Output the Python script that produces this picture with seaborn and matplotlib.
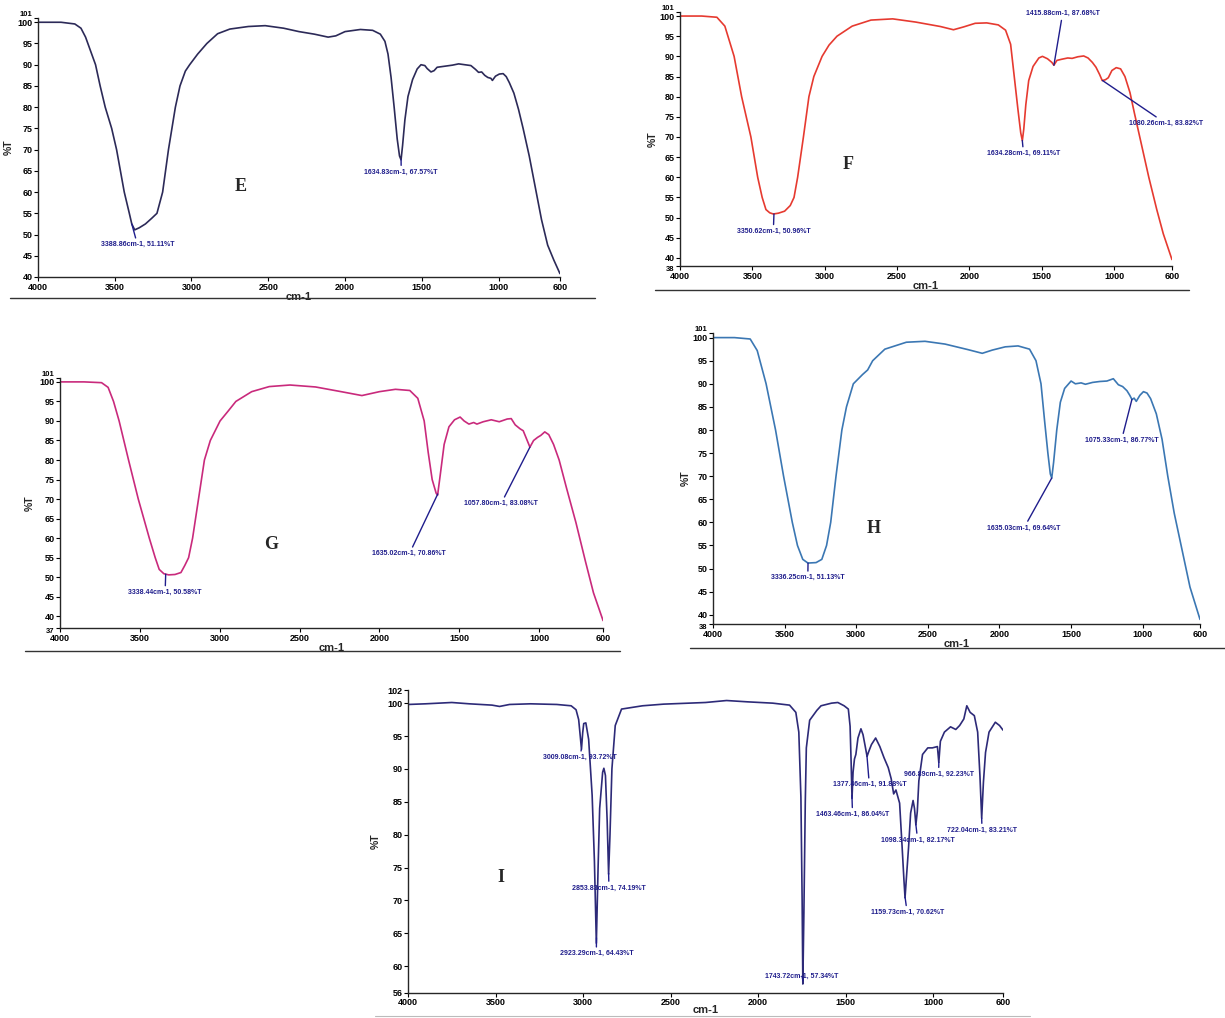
import numpy as np
import pandas as pd
import matplotlib
matplotlib.use('Agg')
import matplotlib.pyplot as plt
import seaborn as sns

# ---- spectra (wavenumber cm-1, %T) ----
E_wn = [4000, 3850, 3760, 3720, 3690, 3650, 3625, 3595, 3562, 3520, 3488, 3438, 3405, 3389, 3370, 3340, 3300, 3260, 3225, 3188,
        3150, 3105, 3075, 3040, 3012, 2960, 2900, 2830, 2750, 2630, 2520, 2400, 2300, 2200, 2110, 2060, 2000, 1900, 1820, 1770,
        1740, 1720, 1700, 1680, 1660, 1645, 1635, 1625, 1610, 1590, 1560, 1530, 1505, 1480, 1465, 1440, 1420, 1400, 1360, 1300,
        1260, 1220, 1180, 1150, 1130, 1110, 1090, 1070, 1050, 1040, 1020, 995, 970, 950, 930, 900, 870, 840, 800, 760,
        720, 680, 640, 600]
E_t = [100.0, 100.0, 99.6, 98.6, 96.5, 92.5, 90.0, 85.0, 80.0, 75.0, 70.0, 60.0, 55.0, 52.5, 51.1, 51.6, 52.5, 53.8, 55.0, 60.0,
       70.0, 80.0, 85.0, 88.5, 90.0, 92.5, 95.0, 97.3, 98.4, 99.0, 99.2, 98.6, 97.8, 97.2, 96.5, 96.8, 97.8, 98.3, 98.1, 97.2,
       95.5, 92.5, 87.0, 80.0, 72.5, 68.5, 67.6, 71.0, 77.0, 82.5, 86.5, 89.0, 90.0, 89.8, 89.1, 88.3, 88.6, 89.4, 89.6, 89.9,
       90.2, 90.0, 89.8, 88.9, 88.2, 88.3, 87.5, 87.0, 86.8, 86.3, 87.3, 87.8, 87.9, 87.2, 85.8, 83.3, 79.5, 75.0, 68.5, 61.0,
       53.5, 47.5, 44.0, 40.8]

F_wn = [4000, 3850, 3745, 3690, 3626, 3574, 3510, 3463, 3432, 3406, 3380, 3355, 3320, 3277, 3238, 3212, 3187, 3147, 3109, 3075,
        3018, 2970, 2915, 2810, 2680, 2530, 2370, 2200, 2110, 2040, 1960, 1880, 1800, 1750, 1715, 1690, 1665, 1645, 1634, 1624,
        1610, 1590, 1560, 1520, 1495, 1460, 1430, 1416, 1395, 1360, 1320, 1290, 1250, 1210, 1180, 1150, 1125, 1100, 1082, 1060,
        1040, 1015, 985, 955, 925, 890, 860, 810, 760, 705, 660, 600]
F_t = [100.0, 100.0, 99.7, 97.5, 90.0, 80.0, 70.0, 60.0, 55.0, 52.0, 51.2, 50.9, 51.1, 51.6, 53.0, 55.0, 60.0, 70.0, 80.0, 85.0,
       90.0, 92.8, 95.0, 97.5, 99.0, 99.3, 98.5, 97.4, 96.6, 97.3, 98.2, 98.3, 97.8, 96.5, 93.0, 85.0, 77.0, 71.0, 69.1, 72.0,
       78.0, 84.0, 87.5, 89.6, 90.0, 89.4, 88.5, 87.8, 89.0, 89.3, 89.6, 89.5, 89.9, 90.1, 89.6, 88.5, 87.3, 85.5, 84.0, 84.2,
       84.7, 86.5, 87.2, 86.9, 85.0, 81.0, 76.0, 68.0, 60.0, 52.0, 46.0, 39.6]

G_wn = [4000, 3850, 3740, 3699, 3665, 3630, 3571, 3510, 3441, 3404, 3379, 3350, 3320, 3280, 3243, 3219, 3195, 3170, 3133, 3096,
        3059, 2998, 2948, 2899, 2800, 2690, 2560, 2400, 2240, 2110, 2000, 1900, 1810, 1760, 1720, 1695, 1670, 1645, 1636, 1620,
        1595, 1565, 1530, 1495, 1470, 1440, 1410, 1390, 1350, 1300, 1250, 1200, 1175, 1150, 1120, 1100, 1080, 1058, 1035, 1010,
        990, 965, 940, 910, 875, 830, 770, 710, 660, 600]
G_t = [100.0, 100.0, 99.8, 98.6, 95.0, 90.0, 80.0, 70.0, 60.0, 55.0, 52.0, 50.9, 50.6, 50.7, 51.2, 53.0, 55.0, 60.0, 70.0, 80.0,
       85.0, 90.0, 92.5, 95.0, 97.5, 98.8, 99.2, 98.7, 97.5, 96.5, 97.5, 98.1, 97.8, 95.8, 90.0, 82.0, 75.0, 71.5, 71.0, 76.0,
       84.0, 88.5, 90.3, 91.0, 90.0, 89.2, 89.6, 89.2, 89.8, 90.3, 89.8, 90.5, 90.6, 89.0, 88.0, 87.5, 85.5, 83.3, 85.0, 85.8,
       86.3, 87.2, 86.5, 84.0, 80.0, 73.0, 64.0, 54.0, 46.0, 38.9]

H_wn = [4000, 3850, 3740, 3691, 3629, 3563, 3507, 3446, 3410, 3373, 3337, 3280, 3240, 3207, 3178, 3141, 3100, 3068, 3020, 2956,
        2920, 2885, 2800, 2650, 2520, 2380, 2220, 2120, 2050, 1960, 1870, 1790, 1745, 1710, 1685, 1662, 1645, 1635, 1622, 1600,
        1575, 1545, 1500, 1470, 1430, 1400, 1350, 1300, 1250, 1205, 1170, 1140, 1110, 1090, 1075, 1060, 1045, 1020, 995, 970,
        945, 905, 865, 825, 780, 725, 670, 600]
H_t = [100.0, 100.0, 99.7, 97.2, 90.0, 80.0, 70.0, 60.0, 55.0, 52.0, 51.2, 51.3, 52.0, 55.0, 60.0, 70.0, 80.0, 85.0, 90.0, 92.0,
       93.0, 95.0, 97.5, 99.0, 99.2, 98.6, 97.4, 96.6, 97.3, 98.0, 98.2, 97.5, 95.0, 90.0, 82.0, 75.0, 70.5, 69.6, 73.0, 80.0,
       86.0, 89.0, 90.6, 90.0, 90.2, 89.9, 90.3, 90.5, 90.6, 91.1, 89.8, 89.4, 88.5, 87.5, 86.6, 86.9, 86.2, 87.5, 88.3, 88.0,
       86.8, 83.5, 78.0, 70.0, 62.0, 54.0, 46.0, 39.0]

I_wn = [4000, 3900, 3750, 3650, 3520, 3477, 3420, 3300, 3150, 3068, 3040, 3025, 3016, 3009, 3002, 2996, 2984, 2968, 2948, 2935,
        2924, 2914, 2905, 2888, 2881, 2872, 2862, 2854, 2846, 2835, 2816, 2780, 2660, 2540, 2300, 2180, 2060, 1916, 1820, 1784,
        1767, 1755, 1748, 1744, 1738, 1730, 1724, 1705, 1664, 1640, 1580, 1544, 1508, 1484, 1474, 1468, 1463, 1457, 1449, 1441,
        1429, 1412, 1400, 1388, 1377, 1368, 1352, 1328, 1304, 1280, 1256, 1239, 1225, 1212, 1191, 1177, 1166, 1160, 1152, 1140,
        1128, 1114, 1106, 1098, 1090, 1081, 1060, 1030, 1004, 975, 967, 958, 935, 900, 870, 848, 824, 807, 788, 764,
        745, 732, 722, 712, 700, 680, 644, 620, 600]
I_t = [99.8, 99.9, 100.1, 99.9, 99.7, 99.5, 99.8, 99.9, 99.8, 99.6, 99.0, 97.5, 95.0, 93.0, 95.5, 96.9, 97.0, 94.5, 86.0, 76.0,
       63.5, 75.0, 84.0, 89.5, 90.1, 89.0, 82.0, 74.0, 80.0, 90.0, 96.6, 99.1, 99.6, 99.85, 100.1, 100.4, 100.2, 100.0, 99.7, 98.6,
       95.6, 85.7, 70.0, 57.3, 68.0, 85.0, 93.2, 97.4, 98.9, 99.6, 100.0, 100.1, 99.6, 99.1, 96.5, 91.0, 85.5, 89.5, 91.5, 92.2,
       94.7, 96.1, 95.2, 93.5, 91.9, 92.6, 93.7, 94.7, 93.4, 91.7, 90.2, 88.5, 86.2, 86.8, 84.8, 78.3, 73.0, 70.4, 73.5, 78.0,
       83.3, 85.2, 84.0, 81.5, 83.5, 88.2, 92.2, 93.2, 93.2, 93.4, 91.0, 94.2, 95.6, 96.4, 96.0, 96.6, 97.6, 99.6, 98.6, 98.1,
       95.6, 89.0, 82.5, 88.0, 92.5, 95.6, 97.1, 96.6, 95.9]

# peak picks printed on the spectra
E_peaks = [3388.86, 1634.83]
E_labels = ['3388.86cm-1, 51.11%T', '1634.83cm-1, 67.57%T']
F_peaks = [3350.62, 1634.28, 1415.88, 1080.26]
F_labels = ['3350.62cm-1, 50.96%T', '1634.28cm-1, 69.11%T', '1415.88cm-1, 87.68%T', '1080.26cm-1, 83.82%T']
G_peaks = [3338.44, 1635.02, 1057.80]
G_labels = ['3338.44cm-1, 50.58%T', '1635.02cm-1, 70.86%T', '1057.80cm-1, 83.08%T']
H_peaks = [3336.25, 1635.03, 1075.33]
H_labels = ['3336.25cm-1, 51.13%T', '1635.03cm-1, 69.64%T', '1075.33cm-1, 86.77%T']
I_peaks = [3009.08, 2853.83, 2923.29, 1743.72, 1377.46, 1463.46, 966.89, 1098.34, 1159.73, 722.04]
I_labels = ['3009.08cm-1, 93.72%T', '2853.83cm-1, 74.19%T', '2923.29cm-1, 64.43%T', '1743.72cm-1, 57.34%T',
            '1377.46cm-1, 91.88%T', '1463.46cm-1, 86.04%T', '966.89cm-1, 92.23%T', '1098.34cm-1, 82.17%T',
            '1159.73cm-1, 70.62%T', '722.04cm-1, 83.21%T']

# layout: where the peak labels sit (data coords)
E_txt = [(3352, 47.6), (1634, 64.7)]
F_txt = [(3355, 46.6), (1626, 65.9), (1356, 100.6), (640, 73.3)]
G_txt = [(3342, 46.1), (1813, 56.0), (1239, 68.8)]
H_txt = [(3338, 48.0), (1829, 58.8), (1148, 77.8)]
I_txt = [(3020, 91.7), (2852, 71.9), (2924, 61.9), (1748, 58.5), (1364, 87.6), (1460, 83.1),
         (968, 89.2), (1088, 79.2), (1148, 68.2), (720, 80.7)]

sns.set_theme(style='ticks')
plt.rcParams['font.family'] = ['Liberation Sans Narrow', 'Liberation Sans', 'DejaVu Sans']
plt.rcParams['axes.linewidth'] = 1.0

ANN = '#1f1d8c'
fig = plt.figure(figsize=(12.25, 10.18), dpi=100)


def panel(rect, wn, t, color, ylo, yhi, letter, letter_xy, peaks, labels, txt, xpad=0):
    ax = fig.add_axes(rect)
    df = pd.DataFrame({'wn': wn, 't': t})
    sns.lineplot(data=df, x='wn', y='t', ax=ax, color=color, lw=1.2, sort=False, estimator=None)
    ax.set_xlim(4000, 600)
    ax.set_ylim(ylo, yhi)
    ax.set_xticks([4000, 3500, 3000, 2500, 2000, 1500, 1000, 600])
    if yhi == 102:
        yt = [56] + list(range(60, 101, 5)) + [102]
    else:
        yt = sorted(set([ylo] + list(range(40, 101, 5)) + [yhi]))
    ax.set_yticks(yt)
    ax.tick_params(axis='both', labelsize=6.5, length=3, width=0.8, pad=1, colors='black')
    for lab in ax.get_xticklabels() + ax.get_yticklabels():
        lab.set_fontweight('bold')
    # the end labels (101 / 37 ...) sit squeezed next to 100 / 40 like in the instrument printout
    ylabs = ax.get_yticklabels()
    if yhi == 101:
        ylabs[-1].set_fontsize(5.5)
        ylabs[-1].set_va('bottom')
    if ylo < 40:
        ylabs[0].set_fontsize(5.5)
        ylabs[0].set_va('top')
    ax.set_xlabel('cm-1', fontsize=8, fontweight='bold', labelpad=xpad)
    ax.set_ylabel('%T', fontsize=7.5, fontweight='bold')
    ax.yaxis.set_label_coords(-0.046, 0.5)
    sns.despine(ax=ax)
    ax.grid(False)
    for p, lab, (tx, ty) in zip(peaks, labels, txt):
        py = np.interp(p, wn[::-1], t[::-1])
        ax.annotate(lab, xy=(p, py), xytext=(tx, ty), fontsize=5, fontweight='bold', color=ANN,
                    ha='center', va='center', annotation_clip=False,
                    arrowprops=dict(arrowstyle='-', color=ANN, lw=1.0, shrinkA=0, shrinkB=0))
    ax.text(letter_xy[0], letter_xy[1], letter, fontsize=13, fontweight='bold',
            family=['Liberation Serif', 'DejaVu Serif'], ha='center', va='center')
    return ax


panel([0.0310, 0.7279, 0.4261, 0.2544], E_wn, E_t, '#2c2a58', 40, 101, 'E', (2680, 61.3), E_peaks, E_labels, E_txt)
panel([0.5551, 0.7387, 0.4016, 0.2495], F_wn, F_t, '#e63a30', 38, 101, 'F', (2839, 63.1), F_peaks, F_labels, F_txt)
panel([0.0490, 0.3831, 0.4433, 0.2456], G_wn, G_t, '#c92a7c', 37, 101, 'G', (2681, 58.4), G_peaks, G_labels, G_txt)
panel([0.5820, 0.3870, 0.3976, 0.2859], H_wn, H_t, '#3b77b3', 38, 101, 'H', (2876, 58.6), H_peaks, H_labels, H_txt)
panel([0.3331, 0.0250, 0.4857, 0.2972], I_wn, I_t, '#2d2a78', 56, 102, 'I', (3469, 73.5), I_peaks, I_labels, I_txt,
      xpad=-1.5)

# rules under each panel
for x0, x1, y in [(0.008, 0.486, 0.7073), (0.535, 0.971, 0.7151), (0.020, 0.506, 0.3605),
                  (0.563, 1.0, 0.3635)]:
    fig.add_artist(plt.Line2D([x0, x1], [y, y], transform=fig.transFigure, color='#333333', lw=1.0))
fig.add_artist(plt.Line2D([0.306, 0.841], [0.002, 0.002], transform=fig.transFigure, color='#bbbbbb', lw=0.8))

fig.savefig('out.png', dpi=100)
